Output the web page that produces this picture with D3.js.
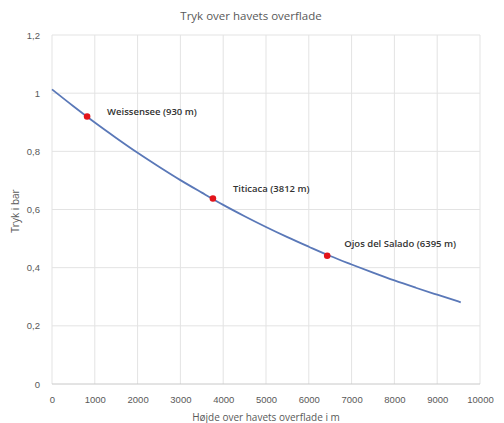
<!DOCTYPE html>
<html><head><meta charset="utf-8">
<script src="https://cdn.jsdelivr.net/npm/d3@7"></script>
<style>
body{margin:0;background:#fff;}
svg{display:block;font-family:"Open Sans","Liberation Sans",sans-serif;}
</style></head>
<body><svg id="c" width="504" height="423"></svg>
<script>
const altitudes = [0,500,1000,1500,2000,2500,3000,3500,4000,4500,5000,5500,6000,6500,7000,7500,8000,8500,9000,9550];
const pressures = [1.013,0.955,0.899,0.846,0.795,0.747,0.701,0.658,0.616,0.577,0.540,0.505,0.472,0.440,0.411,0.383,0.356,0.331,0.307,0.281];
const placeNames = ["Weissensee (930 m)","Titicaca (3812 m)","Ojos del Salado (6395 m)"];
const placeAlt = [820,3760,6430];
const placeP = [0.920,0.638,0.441];
const xTicks = [0,1000,2000,3000,4000,5000,6000,7000,8000,9000,10000];
const yTicks = [0,0.2,0.4,0.6,0.8,1,1.2];
// label offsets (layout only)
const labelDx = [20,20,17];
const labelDy = [-1,-6,-9];

const svg = d3.select("#c");
const x = d3.scaleLinear().domain([0,10000]).range([52,480]);
const y = d3.scaleLinear().domain([0,1.2]).range([384,35]);
const fmtY = d => d3.format(",")(d).replace(".", ",");

svg.append("g").selectAll("line").data(xTicks).join("line")
  .attr("x1",d=>x(d)).attr("x2",d=>x(d)).attr("y1",y(1.2)).attr("y2",y(0))
  .attr("stroke","#e3e3e3").attr("stroke-width",1);
svg.append("g").selectAll("line").data(yTicks).join("line")
  .attr("x1",x(0)).attr("x2",x(10000)).attr("y1",d=>y(d)).attr("y2",d=>y(d))
  .attr("stroke",d=>d===0?"#c8c8c8":"#e3e3e3").attr("stroke-width",1);

const xa = svg.append("g").attr("transform",`translate(0,${y(0)})`)
  .call(d3.axisBottom(x).tickValues(xTicks).tickSize(0).tickPadding(12).tickFormat(d3.format("d")));
xa.select(".domain").remove();
xa.selectAll("text").attr("fill","#595959").attr("font-size","9.5px");
const ya = svg.append("g").attr("transform",`translate(${x(0)},0)`)
  .call(d3.axisLeft(y).tickValues(yTicks).tickSize(0).tickPadding(12).tickFormat(fmtY));
ya.select(".domain").remove();
ya.selectAll("text").attr("fill","#595959").attr("font-size","9.5px");

const pts = altitudes.map((a,i)=>[a,pressures[i]]);
svg.append("path").datum(pts)
  .attr("d", d3.line().x(d=>x(d[0])).y(d=>y(d[1])).curve(d3.curveMonotoneX))
  .attr("fill","none").attr("stroke","#5a78b8").attr("stroke-width",1.8);

svg.append("g").selectAll("circle").data(placeAlt).join("circle")
  .attr("cx",d=>x(d)).attr("cy",(d,i)=>y(placeP[i])).attr("r",3.3).attr("fill","#e3141b");
svg.append("g").selectAll("text").data(placeNames).join("text")
  .attr("x",(d,i)=>x(placeAlt[i])+labelDx[i]).attr("y",(d,i)=>y(placeP[i])+labelDy[i])
  .attr("font-size","9.5px").attr("fill","#333").attr("font-weight","600").text(d=>d);

svg.append("text").attr("x",251).attr("y",20).attr("text-anchor","middle")
  .attr("font-size","11.5px").attr("fill","#595959").text("Tryk over havets overflade");
svg.append("text").attr("x",266).attr("y",421).attr("text-anchor","middle")
  .attr("font-size","10px").attr("fill","#595959").text("Højde over havets overflade i m");
svg.append("text").attr("transform","translate(19,211) rotate(-90)").attr("text-anchor","middle")
  .attr("font-size","10px").attr("fill","#595959").text("Tryk i bar");
</script></body></html>
